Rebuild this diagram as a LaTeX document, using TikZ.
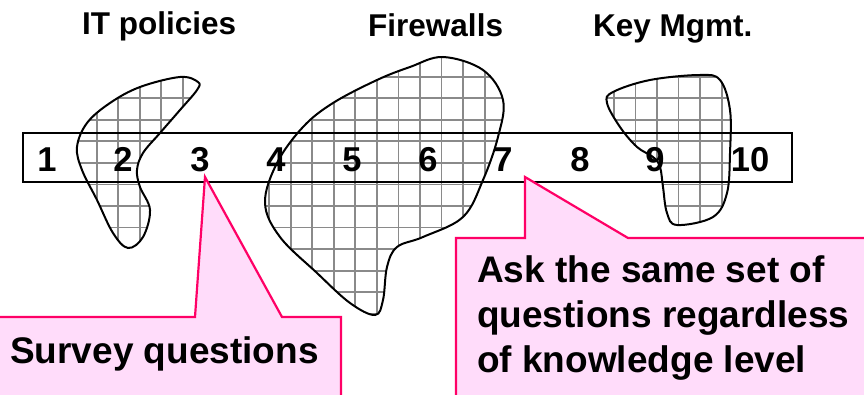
\documentclass[tikz,border=0pt]{standalone}
\usepackage{fontspec}
\setmainfont{Liberation Sans}
\definecolor{callfill}{RGB}{255,220,250}
\definecolor{calledge}{RGB}{255,0,102}
\definecolor{gridgray}{RGB}{138,138,138}
\begin{document}
\begin{tikzpicture}[x=1pt,y=-1pt,
  gridline/.style={draw=gridgray,line width=1.8pt},
  blobline/.style={draw=black,line width=2pt},
  scalebox/.style={draw=black,line width=2pt},
  callout/.style={fill=callfill,draw=calledge,line width=2.2pt,line join=miter},
  numlab/.style={font=\fontsize{34.5}{38}\selectfont\bfseries,inner sep=0pt,anchor=base},
  titlelab/.style={font=\fontsize{31.5}{36}\selectfont\bfseries,inner sep=0pt,anchor=base west},
  calltext/.style={font=\fontsize{37}{45}\selectfont\bfseries,inner sep=0pt,anchor=base west}]
\useasboundingbox (0,0) rectangle (864,395);
\clip (0,0) rectangle (864,395);
\def\blobA{(198,82) (180,77) (140,87) (110,103) (87,123) (77,147) (82,170) (97,200) (113,233) (128,248) (143,237) (150,210) (140,187) (137,170) (143,153) (160,133) (180,110) (197,90)}
\def\blobB{(443,57) (483,70) (503,100) (498,137) (483,180) (463,217) (423,237) (397,247) (387,267) (383,300) (375,315) (350,303) (317,273) (280,237) (265,203) (277,163) (303,127) (333,103) (377,80) (410,67)}
\def\blobC{(607,103) (613,92) (650,80) (700,75) (720,80) (730,110) (730,153) (727,193) (713,217) (677,225) (667,213) (663,187) (660,167) (653,157) (637,147) (620,127)}
% grid inside the blobs
\begin{scope}
  \clip plot[smooth cycle,tension=0.6] coordinates {\blobA}
        plot[smooth cycle,tension=0.6] coordinates {\blobB}
        plot[smooth cycle,tension=0.6] coordinates {\blobC};
  \foreach \i in {-5,...,36} \draw[gridline] (96.7+21.55*\i,0) -- (96.7+21.55*\i,395);
  \foreach \j in {-5,...,16} \draw[gridline] (0,98.3+21.55*\j) -- (864,98.3+21.55*\j);
\end{scope}
\draw[blobline] plot[smooth cycle,tension=0.6] coordinates {\blobA};
\draw[blobline] plot[smooth cycle,tension=0.6] coordinates {\blobB};
\draw[blobline] plot[smooth cycle,tension=0.6] coordinates {\blobC};
% scale
\draw[scalebox] (23,133) rectangle (792,182);
\node[numlab] (n1) at (47,172) {1};
\node[numlab] (n2) at (123,172) {2};
\node[numlab] (n3) at (200,172) {3};
\node[numlab] (n4) at (276,172) {4};
\node[numlab] (n5) at (352,172) {5};
\node[numlab] (n6) at (428,172) {6};
\node[numlab] (n7) at (503,172) {7};
\node[numlab] (n8) at (580,172) {8};
\node[numlab] (n9) at (655,172) {9};
\node[numlab] (n10) at (750,172) {10};
% titles
\node[titlelab] (t1) at (82,35) {IT policies};
\node[titlelab] (t2) at (368,37) {Firewalls};
\node[titlelab] (t3) at (593,37) {Key Mgmt.};
% callouts
\coordinate (tipA) at (205,177);
\coordinate (tipB) at (525,177);
\draw[callout] (-10,317) -- (195,317) -- (tipA) -- (282,317) -- (341,317) -- (341,410) -- (-10,410) -- cycle;
\draw[callout] (456,410) -- (456,238) -- (525,238) -- (tipB) -- (628,238) -- (880,238) -- (880,410) -- cycle;
\node[calltext] (c1) at (10,363) {Survey questions};
\node[calltext] (c2) at (477,282) {\vtop{\baselineskip=45pt\hbox{Ask the same set of}\hbox{questions regardless}\hbox{of knowledge level}}};
\end{tikzpicture}
\end{document}
